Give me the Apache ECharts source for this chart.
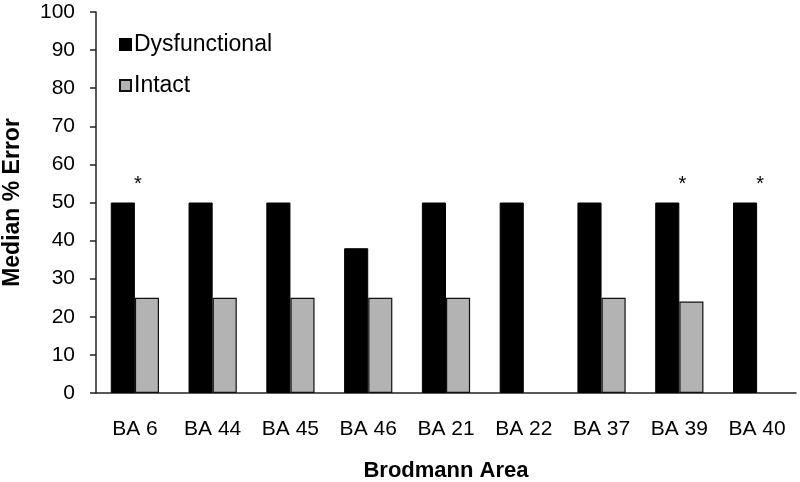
<!DOCTYPE html>
<html>
<head>
<meta charset="utf-8">
<script src="https://cdn.jsdelivr.net/npm/echarts@6/dist/echarts.min.js"></script>
<style>
html,body{margin:0;padding:0;background:#fff;}
#chart{width:800px;height:482px;}
</style>
</head>
<body>
<div id="chart"></div>
<script>
var categories = ['BA 6', 'BA 44', 'BA 45', 'BA 46', 'BA 21', 'BA 22', 'BA 37', 'BA 39', 'BA 40'];
var dysfunctional = [50, 50, 50, 38, 50, 50, 50, 50, 50];
var intact = [25, 25, 25, 25, 25, null, 25, 24, null];
var sigMarks = ['*', '', '', '', '', '', '', '*', '*'];
var yTicks = [0, 10, 20, 30, 40, 50, 60, 70, 80, 90, 100];

var chart = echarts.init(document.getElementById('chart'), null, {renderer: 'canvas'});
var font = 'Liberation Sans, Arial, sans-serif';
chart.setOption({
  animation: false,
  grid: {left: 96, right: 4, top: 12, bottom: 89, containLabel: false, outerBoundsMode: 'none'},
  legend: {
    orient: 'vertical',
    left: 114,
    top: 28,
    itemWidth: 11,
    itemHeight: 11,
    itemGap: 18,
    icon: 'rect',
    textStyle: {fontFamily: font, fontSize: 23, color: '#000', padding: [0, 0, 0, -2]},
    data: ['Dysfunctional', 'Intact']
  },
  xAxis: {
    type: 'category',
    data: categories,
    name: 'Brodmann Area',
    nameLocation: 'middle',
    nameGap: 67,
    nameTextStyle: {fontFamily: font, fontSize: 22, fontWeight: 'bold', color: '#000'},
    axisLine: {lineStyle: {color: '#222', width: 1.5}},
    axisTick: {show: false},
    axisLabel: {fontFamily: font, fontSize: 21, color: '#000', margin: 26}
  },
  yAxis: {
    type: 'value',
    min: 0,
    max: 100,
    interval: 10,
    name: 'Median % Error',
    nameLocation: 'middle',
    nameGap: 72,
    nameTextStyle: {fontFamily: font, fontSize: 23, fontWeight: 'bold', color: '#000'},
    axisLine: {show: true, lineStyle: {color: '#222', width: 1.5}},
    axisTick: {show: true, length: 6, lineStyle: {color: '#222', width: 1.5}},
    splitLine: {show: false},
    axisLabel: {
      fontFamily: font, fontSize: 21, color: '#000', margin: 21,
      formatter: function (v) { return yTicks.indexOf(v) >= 0 ? String(v) : ''; }
    }
  },
  series: [
    {
      name: 'Dysfunctional',
      type: 'bar',
      data: dysfunctional,
      barWidth: '31%',
      barGap: '0%',
      itemStyle: {color: '#000', borderColor: '#000', borderWidth: 1},
      label: {
        show: true,
        position: 'top',
        distance: 8,
        offset: [15, 0],
        fontFamily: font,
        fontSize: 20,
        color: '#000',
        formatter: function (p) { return sigMarks[p.dataIndex]; }
      }
    },
    {
      name: 'Intact',
      type: 'bar',
      data: intact,
      barWidth: '31%',
      itemStyle: {color: '#b3b3b3', borderColor: '#111', borderWidth: 1.2}
    }
  ]
});
</script>
</body>
</html>
